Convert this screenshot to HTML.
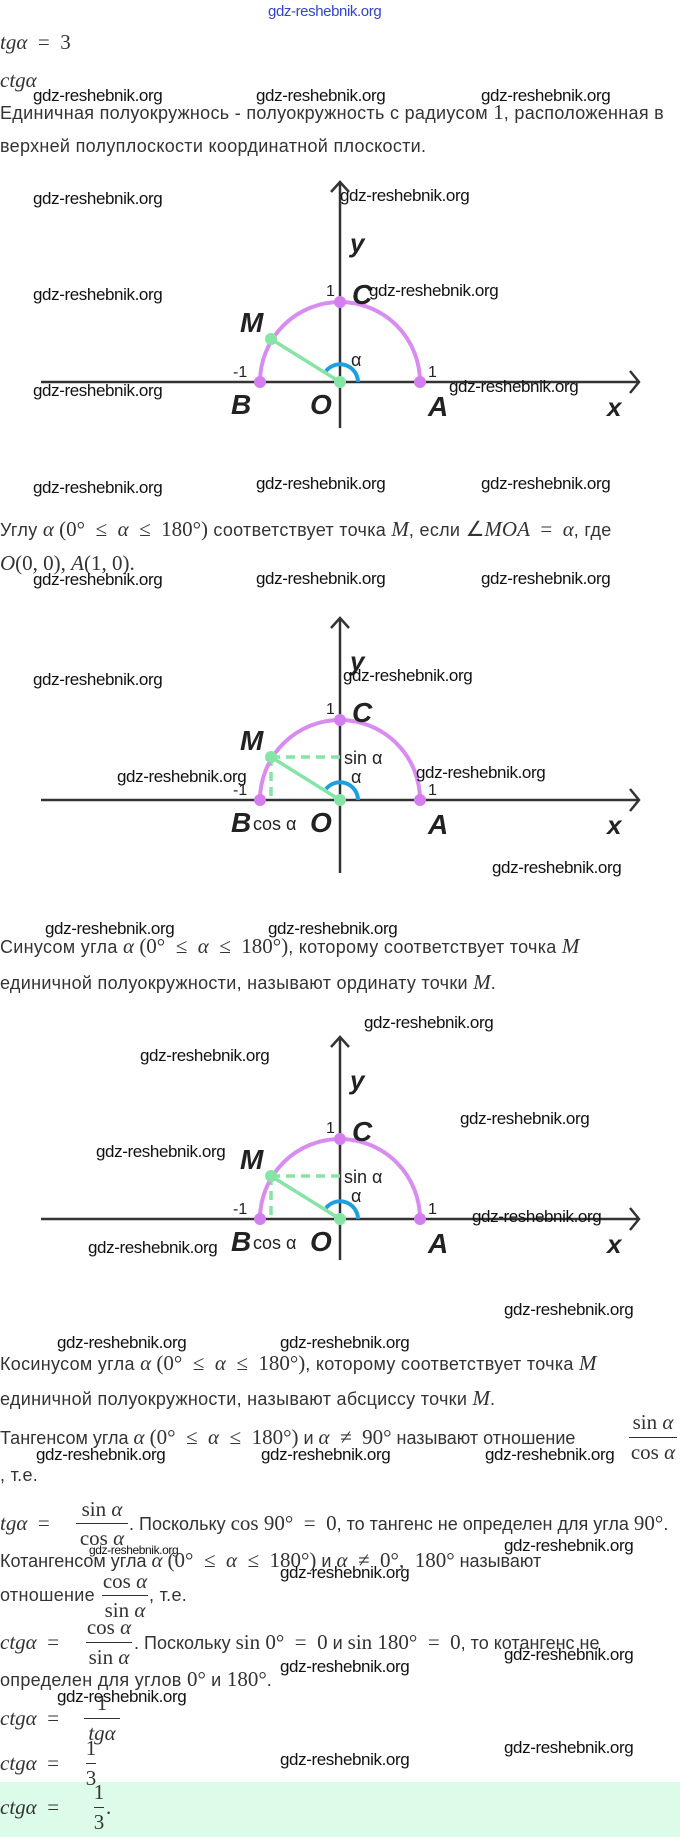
<!DOCTYPE html>
<html><head><meta charset="utf-8"><style>
body{margin:0;width:680px;height:1837px;position:relative;background:#fff;overflow:hidden;font-family:"Liberation Sans",sans-serif;}
.l{position:absolute;white-space:nowrap;font-size:18px;line-height:22px;color:#333;letter-spacing:0.3px}
.m{font-family:"Liberation Serif",serif;font-size:21px;font-style:italic;color:#333;letter-spacing:0}
.n{font-family:"Liberation Serif",serif;font-size:21px;color:#333;letter-spacing:0}
.w{position:absolute;white-space:nowrap;font-size:17px;line-height:20px;color:#111;letter-spacing:-0.4px}
.fr{position:absolute;font-family:"Liberation Serif",serif;font-size:21px;color:#333;text-align:center;line-height:22px}
.bar{position:absolute;height:1px;background:#333}
svg text{font-family:"Liberation Sans",sans-serif}
</style></head><body>
<div style="position:absolute;top:1782px;left:0;width:680px;height:55px;background:#dcfbe9"></div>

<div class="w" style="top:2px;left:268px;color:#3344cc;font-size:15px">gdz-reshebnik.org</div>
<div class="l" style="top:31px;left:0"><span class="m">tgα</span> <span class="n">&nbsp;=&nbsp; 3</span></div>
<div class="l" style="top:69px;left:0"><span class="m">ctgα</span></div>
<div class="w" style="top:86px;left:33px">gdz-reshebnik.org</div>
<div class="w" style="top:86px;left:256px">gdz-reshebnik.org</div>
<div class="w" style="top:86px;left:481px">gdz-reshebnik.org</div>
<div class="l" style="top:101px;left:0">Единичная полуокружнось - полуокружность с радиусом <span class="n">1</span>, расположенная в</div>
<div class="l" style="top:135px;left:0">верхней полуплоскости координатной плоскости.</div>

<svg width="680" height="1837" style="position:absolute;left:0;top:0">
<defs>
<g id="base">
<line x1="41" y1="0" x2="639" y2="0" stroke="#333" stroke-width="2.5"/>
<polyline points="630,-11 639,0 630,11" fill="none" stroke="#333" stroke-width="2.5"/>
<path d="M260,0 A80,80 0 0 1 420,0" fill="none" stroke="#d88cf0" stroke-width="4"/>
<path d="M358,0 A18,18 0 0 0 326,-11" fill="none" stroke="#1e9fe0" stroke-width="4"/>
<line x1="340" y1="0" x2="271" y2="-43" stroke="#86e4a6" stroke-width="3.5"/>
<circle cx="260" cy="0" r="6" fill="#d57ef0"/>
<circle cx="420" cy="0" r="6" fill="#d57ef0"/>
<circle cx="340" cy="-80" r="6" fill="#d57ef0"/>
<circle cx="340" cy="0" r="6" fill="#86e4a6"/>
<circle cx="271" cy="-43" r="6" fill="#86e4a6"/>
<text x="326" y="-86" font-size="16" fill="#222">1</text>
<text x="352" y="-78" font-size="28" font-style="italic" font-weight="bold" fill="#222">C</text>
<text x="350" y="-130" font-size="26" font-style="italic" font-weight="bold" fill="#222">y</text>
<text x="240" y="-50" font-size="28" font-style="italic" font-weight="bold" fill="#222">M</text>
<text x="233" y="-5" font-size="16" fill="#222">-1</text>
<text x="428" y="-5" font-size="16" fill="#222">1</text>
<text x="231" y="32" font-size="28" font-style="italic" font-weight="bold" fill="#222">B</text>
<text x="310" y="32" font-size="28" font-style="italic" font-weight="bold" fill="#222">O</text>
<text x="428" y="34" font-size="28" font-style="italic" font-weight="bold" fill="#222">A</text>
<text x="607" y="34" font-size="26" font-style="italic" font-weight="bold" fill="#222">x</text>
</g>
</defs>
<g transform="translate(0,382)">
<line x1="340" y1="-200" x2="340" y2="46" stroke="#333" stroke-width="2.5"/>
<polyline points="331,-190 340,-200 349,-190" fill="none" stroke="#333" stroke-width="2.5"/>
<use href="#base"/>
<text x="351" y="-16" font-size="18" fill="#222">α</text>
</g>
<g transform="translate(0,800)">
<line x1="340" y1="-182" x2="340" y2="73" stroke="#333" stroke-width="2.5"/>
<polyline points="331,-172 340,-182 349,-172" fill="none" stroke="#333" stroke-width="2.5"/>
<line x1="271" y1="-43" x2="340" y2="-43" stroke="#86e4a6" stroke-width="3.5" stroke-dasharray="9,6"/>
<line x1="271" y1="-43" x2="271" y2="0" stroke="#86e4a6" stroke-width="3.5" stroke-dasharray="9,6"/>
<use href="#base"/>
<text x="344" y="-36" font-size="18" fill="#222">sin α</text>
<text x="351" y="-17" font-size="18" fill="#222">α</text>
<text x="253" y="30" font-size="18" fill="#222">cos α</text>
</g>
<g transform="translate(0,1219)">
<line x1="340" y1="-182" x2="340" y2="41" stroke="#333" stroke-width="2.5"/>
<polyline points="331,-172 340,-182 349,-172" fill="none" stroke="#333" stroke-width="2.5"/>
<line x1="271" y1="-43" x2="340" y2="-43" stroke="#86e4a6" stroke-width="3.5" stroke-dasharray="9,6"/>
<line x1="271" y1="-43" x2="271" y2="0" stroke="#86e4a6" stroke-width="3.5" stroke-dasharray="9,6"/>
<use href="#base"/>
<text x="344" y="-36" font-size="18" fill="#222">sin α</text>
<text x="351" y="-17" font-size="18" fill="#222">α</text>
<text x="253" y="30" font-size="18" fill="#222">cos α</text>
</g>
</svg>

<div class="w" style="top:189px;left:33px">gdz-reshebnik.org</div>
<div class="w" style="top:186px;left:340px">gdz-reshebnik.org</div>
<div class="w" style="top:285px;left:33px">gdz-reshebnik.org</div>
<div class="w" style="top:281px;left:369px">gdz-reshebnik.org</div>
<div class="w" style="top:381px;left:33px">gdz-reshebnik.org</div>
<div class="w" style="top:377px;left:449px">gdz-reshebnik.org</div>

<div class="w" style="top:478px;left:33px">gdz-reshebnik.org</div>
<div class="w" style="top:474px;left:256px">gdz-reshebnik.org</div>
<div class="w" style="top:474px;left:481px">gdz-reshebnik.org</div>
<div class="l" style="top:518px;left:0">Углу <span class="m">α</span> <span class="n">(0° &nbsp;≤&nbsp; <i>α</i> &nbsp;≤&nbsp; 180°)</span> соответствует точка <span class="m">M</span>, если <span class="n">∠<i>MOA</i> &nbsp;=&nbsp; <i>α</i></span>, где</div>
<div class="l" style="top:552px;left:0"><span class="n"><i>O</i>(0, 0), <i>A</i>(1, 0).</span></div>
<div class="w" style="top:570px;left:33px">gdz-reshebnik.org</div>
<div class="w" style="top:569px;left:256px">gdz-reshebnik.org</div>
<div class="w" style="top:569px;left:481px">gdz-reshebnik.org</div>
<div class="w" style="top:670px;left:33px">gdz-reshebnik.org</div>
<div class="w" style="top:666px;left:343px">gdz-reshebnik.org</div>
<div class="w" style="top:767px;left:117px">gdz-reshebnik.org</div>
<div class="w" style="top:763px;left:416px">gdz-reshebnik.org</div>
<div class="w" style="top:858px;left:492px">gdz-reshebnik.org</div>

<div class="w" style="top:919px;left:45px">gdz-reshebnik.org</div>
<div class="w" style="top:919px;left:268px">gdz-reshebnik.org</div>
<div class="l" style="top:935px;left:0">Синусом угла <span class="m">α</span> <span class="n">(0° &nbsp;≤&nbsp; <i>α</i> &nbsp;≤&nbsp; 180°)</span>, которому соответствует точка <span class="m">M</span></div>
<div class="l" style="top:971px;left:0">единичной полуокружности, называют ординату точки <span class="m">M</span>.</div>

<div class="w" style="top:1013px;left:364px">gdz-reshebnik.org</div>
<div class="w" style="top:1046px;left:140px">gdz-reshebnik.org</div>
<div class="w" style="top:1109px;left:460px">gdz-reshebnik.org</div>
<div class="w" style="top:1142px;left:96px">gdz-reshebnik.org</div>
<div class="w" style="top:1207px;left:472px">gdz-reshebnik.org</div>
<div class="w" style="top:1238px;left:88px">gdz-reshebnik.org</div>
<div class="w" style="top:1300px;left:504px">gdz-reshebnik.org</div>

<div class="w" style="top:1333px;left:57px">gdz-reshebnik.org</div>
<div class="w" style="top:1333px;left:280px">gdz-reshebnik.org</div>
<div class="l" style="top:1352px;left:0">Косинусом угла <span class="m">α</span> <span class="n">(0° &nbsp;≤&nbsp; <i>α</i> &nbsp;≤&nbsp; 180°)</span>, которому соответствует точка <span class="m">M</span></div>
<div class="l" style="top:1387px;left:0">единичной полуокружности, называют абсциссу точки <span class="m">M</span>.</div>

<div class="l" style="top:1426px;left:0;letter-spacing:0">Тангенсом угла <span class="m">α</span> <span class="n">(0° &nbsp;≤&nbsp; <i>α</i> &nbsp;≤&nbsp; 180°)</span> и <span class="n"><i>α</i> &nbsp;≠&nbsp; 90°</span> называют отношение</div>
<div class="fr" style="top:1411px;left:628px;width:50px">sin <i>α</i></div>
<div class="bar" style="top:1437px;left:629px;width:48px"></div>
<div class="fr" style="top:1441px;left:628px;width:50px">cos <i>α</i></div>
<div class="w" style="top:1445px;left:36px">gdz-reshebnik.org</div>
<div class="w" style="top:1445px;left:261px">gdz-reshebnik.org</div>
<div class="w" style="top:1445px;left:485px">gdz-reshebnik.org</div>
<div class="l" style="top:1464px;left:0">, т.е.</div>

<div class="l" style="top:1512px;left:0"><span class="m">tgα</span> <span class="n">&nbsp;=&nbsp;</span></div>
<div class="fr" style="top:1498px;left:75px;width:54px">sin <i>α</i></div>
<div class="bar" style="top:1523px;left:76px;width:52px"></div>
<div class="fr" style="top:1527px;left:75px;width:54px">cos <i>α</i></div>
<div class="l" style="top:1512px;left:129px;letter-spacing:0">. Поскольку <span class="n">cos 90° &nbsp;=&nbsp; 0</span>, то тангенс не определен для угла <span class="n">90°</span>.</div>
<div class="w" style="top:1540px;left:89px;font-size:12px">gdz-reshebnik.org</div>
<div class="w" style="top:1536px;left:504px">gdz-reshebnik.org</div>
<div class="l" style="top:1549px;left:0;letter-spacing:0">Котангенсом угла <span class="m">α</span> <span class="n">(0° &nbsp;≤&nbsp; <i>α</i> &nbsp;≤&nbsp; 180°)</span> и <span class="n"><i>α</i> &nbsp;≠&nbsp; 0°, &nbsp;180°</span> называют</div>
<div class="w" style="top:1563px;left:280px">gdz-reshebnik.org</div>
<div class="l" style="top:1584px;left:0">отношение</div>
<div class="fr" style="top:1570px;left:100px;width:50px">cos <i>α</i></div>
<div class="bar" style="top:1595px;left:102px;width:46px"></div>
<div class="fr" style="top:1599px;left:100px;width:50px">sin <i>α</i></div>
<div class="l" style="top:1584px;left:149px">, т.е.</div>

<div class="l" style="top:1631px;left:0"><span class="m">ctgα</span> <span class="n">&nbsp;=&nbsp;</span></div>
<div class="fr" style="top:1616px;left:84px;width:50px">cos <i>α</i></div>
<div class="bar" style="top:1642px;left:86px;width:46px"></div>
<div class="fr" style="top:1646px;left:84px;width:50px">sin <i>α</i></div>
<div class="l" style="top:1631px;left:134px;letter-spacing:0">. Поскольку <span class="n">sin 0° &nbsp;=&nbsp; 0</span> и <span class="n">sin 180° &nbsp;=&nbsp; 0</span>, то котангенс не</div>
<div class="w" style="top:1645px;left:504px">gdz-reshebnik.org</div>
<div class="w" style="top:1657px;left:280px">gdz-reshebnik.org</div>
<div class="l" style="top:1668px;left:0">определен для углов <span class="n">0°</span> и <span class="n">180°</span>.</div>
<div class="w" style="top:1687px;left:57px">gdz-reshebnik.org</div>

<div class="l" style="top:1707px;left:0"><span class="m">ctgα</span> <span class="n">&nbsp;=&nbsp;</span></div>
<div class="fr" style="top:1692px;left:82px;width:40px">1</div>
<div class="bar" style="top:1718px;left:84px;width:36px"></div>
<div class="fr" style="top:1722px;left:82px;width:40px"><i>tgα</i></div>

<div class="l" style="top:1752px;left:0"><span class="m">ctgα</span> <span class="n">&nbsp;=&nbsp;</span></div>
<div class="fr" style="top:1737px;left:84px;width:14px">1</div>
<div class="bar" style="top:1763px;left:86px;width:10px"></div>
<div class="fr" style="top:1767px;left:84px;width:14px">3</div>
<div class="w" style="top:1738px;left:504px">gdz-reshebnik.org</div>
<div class="w" style="top:1750px;left:280px">gdz-reshebnik.org</div>

<div class="l" style="top:1796px;left:0"><span class="m">ctgα</span> <span class="n">&nbsp;=&nbsp;</span></div>
<div class="fr" style="top:1781px;left:92px;width:14px">1</div>
<div class="bar" style="top:1807px;left:94px;width:10px"></div>
<div class="fr" style="top:1811px;left:92px;width:14px">3</div>
<div class="l" style="top:1796px;left:106px"><span class="n">.</span></div>
</body></html>
